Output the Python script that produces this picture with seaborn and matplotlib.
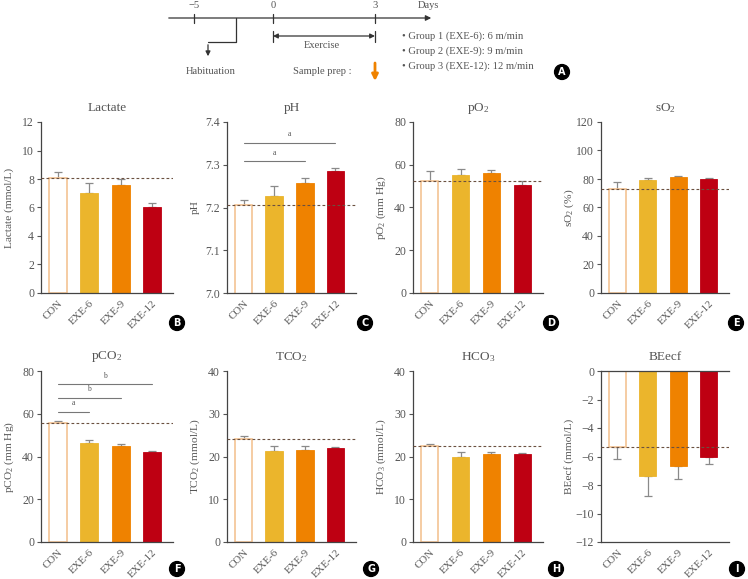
import numpy as np
import pandas as pd
import seaborn as sns
import matplotlib.pyplot as plt

sns.set_style('white')
plt.rcParams['font.family'] = ['Liberation Serif', 'DejaVu Serif']
plt.rcParams['mathtext.fontset'] = 'custom'
plt.rcParams['mathtext.rm'] = 'Liberation Serif'
plt.rcParams['mathtext.it'] = 'Liberation Serif:italic'

groups = ['CON', 'EXE-6', 'EXE-9', 'EXE-12']
colors = ['white', '#EBB52C', '#EF8200', '#BE0012']

lactate = [8.1, 7.0, 7.55, 6.0]
lactate_err = [0.4, 0.75, 0.45, 0.3]
ph = [7.205, 7.228, 7.257, 7.285]
ph_err = [0.013, 0.023, 0.013, 0.007]
po2 = [52.5, 55.0, 56.0, 50.5]
po2_err = [4.5, 3.0, 1.5, 2.0]
so2 = [73.0, 79.5, 81.3, 80.0]
so2_err = [5.0, 1.5, 0.5, 0.4]
pco2 = [55.5, 46.5, 44.7, 42.3]
pco2_err = [1.3, 1.0, 1.0, 0.5]
tco2 = [24.0, 21.2, 21.5, 21.9]
tco2_err = [0.8, 1.2, 0.9, 0.3]
hco3 = [22.4, 19.9, 20.5, 20.5]
hco3_err = [0.6, 1.1, 0.5, 0.3]
beecf = [-5.3, -7.4, -6.7, -6.0]
beecf_err = [0.9, 1.4, 0.85, 0.5]

# significance brackets: (index of group compared with CON, height, letter)
ph_sig = [(2, 7.308, 'a'), (3, 7.352, 'a')]
pco2_sig = [(1, 61.0, 'a'), (2, 67.5, 'b'), (3, 74.0, 'b')]

W, H = 748, 579
TXT = '#555555'
fig = plt.figure(figsize=(W / 100, H / 100), dpi=100)


def px(x0, y0, x1, y1):
    return [x0 / W, 1 - y1 / H, (x1 - x0) / W, (y1 - y0) / H]


def letter(x, y, s):
    fig.text(x / W, 1 - y / H, s, color='white', fontsize=7, fontweight='bold',
             family='DejaVu Sans', ha='center', va='center',
             bbox=dict(boxstyle='circle,pad=0.25', fc='black', ec='black'))


def panel(box, vals, errs, title, ylabel, ylim, yticks, tag, tagpos, sig=None, neg=False):
    ax = fig.add_axes(px(*box))
    df = pd.DataFrame({'group': groups, 'value': vals})
    sns.barplot(data=df, x='group', y='value', hue='group', palette=colors,
                saturation=1, legend=False, width=0.57, ax=ax, zorder=2)
    for p, c in zip(ax.patches, colors):
        p.set_edgecolor('#F3C393' if c == 'white' else c)
        p.set_linewidth(1.2 if c == 'white' else 0.6)
    zeros = np.zeros(len(vals))
    yerr = [errs, zeros] if neg else [zeros, errs]
    ax.errorbar(range(len(vals)), vals, yerr=yerr, fmt='none', ecolor='#8a8a8a',
                elinewidth=0.9, capsize=3, capthick=0.9, zorder=1)
    ax.axhline(vals[0], color='#6b5040', lw=0.8, ls=(0, (2.5, 2)), zorder=3)
    if sig:
        for j, yy, s in sig:
            ax.plot([0, j], [yy, yy], color='#777777', lw=0.8)
            ax.text(j / 2, yy + (ylim[1] - ylim[0]) * 0.025, s, color=TXT,
                    fontsize=5.5, ha='center', va='bottom')
    ax.set_xlim(-0.54, 3.67)
    ax.set_ylim(*ylim)
    ax.set_yticks(yticks)
    ax.set_xlabel('')
    ax.set_ylabel(ylabel, color=TXT, fontsize=8.2)
    ax.yaxis.label.set_va('center')
    ax.yaxis.set_label_coords(-32 / (box[2] - box[0]), 0.5)
    ax.text(0.5, 1 + 14 / (box[3] - box[1]), title, transform=ax.transAxes,
            ha='center', va='center', color=TXT, fontsize=9.5)
    ax.set_xticks(range(len(groups)))
    ax.set_xticklabels(groups, rotation=45, ha='right', rotation_mode='anchor')
    ax.tick_params(axis='both', colors=TXT, labelsize=8.5, length=3, width=0.8,
                   direction='out', left=True, bottom=False, pad=2)
    ax.tick_params(axis='x', labelsize=7.8, pad=1)
    for side in ['right', 'top']:
        ax.spines[side].set_visible(False)
    for side in ['left', 'bottom']:
        ax.spines[side].set_color('#444444')
        ax.spines[side].set_linewidth(0.9)
    if neg:
        ax.spines['top'].set_visible(True)
        ax.spines['top'].set_color('#444444')
        ax.spines['top'].set_linewidth(0.9)
    letter(tagpos[0], tagpos[1], tag)
    return ax


r1 = (122, 293)
r2 = (371, 542)
cols = [(41, 173), (227, 356), (413, 543), (601, 729)]

panel((cols[0][0], r1[0], cols[0][1], r1[1]), lactate, lactate_err, 'Lactate',
      'Lactate (mmol/L)', (0, 12), range(0, 13, 2), 'B', (177, 323))
panel((cols[1][0], r1[0], cols[1][1], r1[1]), ph, ph_err, 'pH', 'pH',
      (7.0, 7.4), [7.0, 7.1, 7.2, 7.3, 7.4], 'C', (365, 323), sig=ph_sig)
panel((cols[2][0], r1[0], cols[2][1], r1[1]), po2, po2_err, r'pO$_2$',
      r'pO$_2$ (mm Hg)', (0, 80), range(0, 81, 20), 'D', (551, 323))
panel((cols[3][0], r1[0], cols[3][1], r1[1]), so2, so2_err, r'sO$_2$',
      r'sO$_2$ (%)', (0, 120), range(0, 121, 20), 'E', (736, 323))
panel((cols[0][0], r2[0], cols[0][1], r2[1]), pco2, pco2_err, r'pCO$_2$',
      r'pCO$_2$ (mm Hg)', (0, 80), range(0, 81, 20), 'F', (177, 569), sig=pco2_sig)
panel((cols[1][0], r2[0], cols[1][1], r2[1]), tco2, tco2_err, r'TCO$_2$',
      r'TCO$_2$ (mmol/L)', (0, 40), range(0, 41, 10), 'G', (371, 569))
panel((cols[2][0], r2[0], cols[2][1], r2[1]), hco3, hco3_err, r'HCO$_3$',
      r'HCO$_3$ (mmol/L)', (0, 40), range(0, 41, 10), 'H', (556, 569))
panel((cols[3][0], r2[0], cols[3][1], r2[1]), beecf, beecf_err, 'BEecf',
      'BEecf (mmol/L)', (-12, 0), range(-12, 1, 2), 'I', (737, 569), neg=True)

# timeline (panel A)
tl = fig.add_axes([0, 1 - 112 / H, 1, 112 / H])
tl.set_xlim(0, W)
tl.set_ylim(112, 0)
tl.axis('off')
lc = '#333333'
fs = 7.6
tl.annotate('', xy=(434, 18), xytext=(166, 18),
            arrowprops=dict(arrowstyle='-|>', color=lc, lw=0.9, mutation_scale=8))
for xx, s in [(194, '\u22125'), (273, '0'), (375, '3')]:
    tl.plot([xx, xx], [14, 23], color=lc, lw=0.9)
    tl.text(xx, 6, s, ha='center', va='center', color=TXT, fontsize=fs)
tl.text(428, 6, 'Days', ha='center', va='center', color=TXT, fontsize=fs)
tl.plot([236, 236, 208], [18, 42, 42], color=lc, lw=0.9)
tl.annotate('', xy=(208, 59), xytext=(208, 42),
            arrowprops=dict(arrowstyle='-|>', color=lc, lw=0.9, mutation_scale=7))
tl.text(211, 71, 'Habituation', ha='center', va='center', color=TXT, fontsize=fs)
tl.annotate('', xy=(375, 36), xytext=(273, 36),
            arrowprops=dict(arrowstyle='<|-|>', color=lc, lw=0.9, mutation_scale=7,
                            shrinkA=0, shrinkB=0))
tl.plot([273, 273], [31, 42], color=lc, lw=0.9)
tl.plot([375, 375], [31, 42], color=lc, lw=0.9)
tl.text(322, 45, 'Exercise', ha='center', va='center', color=TXT, fontsize=fs)
tl.text(322, 71, 'Sample prep :', ha='center', va='center', color=TXT, fontsize=fs)
tl.annotate('', xy=(375, 81), xytext=(375, 63),
            arrowprops=dict(arrowstyle='-|>', color='#EF8200', lw=2, mutation_scale=9,
                            shrinkA=0, shrinkB=0))
for yy, s in [(36, '\u2022 Group 1 (EXE-6): 6 m/min'),
              (51, '\u2022 Group 2 (EXE-9): 9 m/min'),
              (66, '\u2022 Group 3 (EXE-12): 12 m/min')]:
    tl.text(402, yy, s, ha='left', va='center', color=TXT, fontsize=fs)
letter(562, 72, 'A')

fig.savefig('out.png', dpi=100)
